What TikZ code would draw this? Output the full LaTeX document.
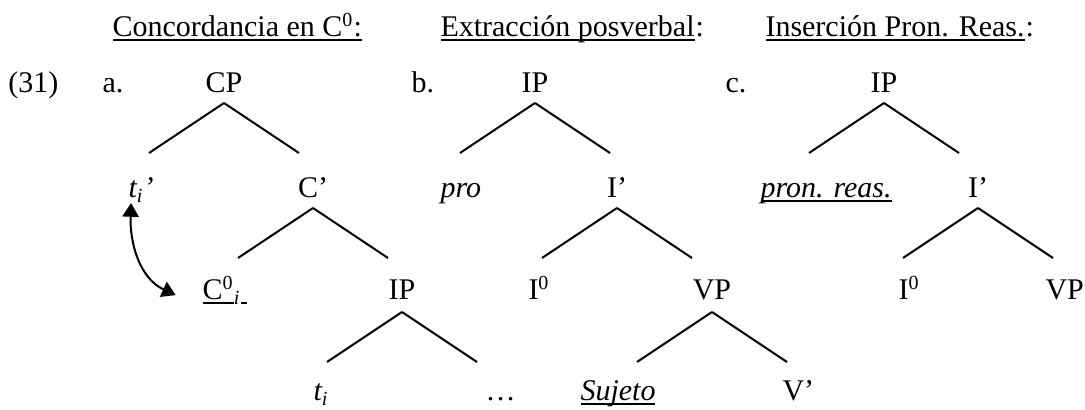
\documentclass[tikz,border=0pt]{standalone}
\usepackage{fontspec}
\setmainfont{Liberation Serif}
\usetikzlibrary{arrows.meta}
\newcommand{\wordul}[1]{\setbox0\hbox{#1}\rlap{\rule[-1.6pt]{\wd0}{0.6pt}}\box0}

\begin{document}
\begin{tikzpicture}[x=0.4pt, y=-0.4pt, font=\fontsize{12}{14}\selectfont,
  lab/.style={inner sep=0pt, anchor=base west},
  cat/.style={inner sep=0pt, anchor=base},
  branch/.style={line width=.8pt},
  >={Triangle[length=5.5pt,width=6.5pt]}]
\useasboundingbox (0,0) rectangle (1085,410);

% encabezados
\node[lab] (h1) at (112,37) {\wordul{Concordancia en C\textsuperscript{0}:}};
\node[lab] (h2) at (440,37) {\wordul{Extracción posverbal}};
\node[lab] (h2c) at (h2.base east) {:};
\node[lab] (h3) at (765,37) {\wordul{Inserción Pron. Reas.}};
\node[lab] (h3c) at (h3.base east) {:};

% fila 1
\node[lab] (ex) at (8,93) {(31)};
\node[lab] (la) at (102,93) {a.};
\node[lab] (lb) at (411,93) {b.};
\node[lab] (lc) at (725,93) {c.};
\node[cat] (cp) at (224,93) {CP};
\node[cat] (ipb) at (535,93) {IP};
\node[cat] (ipc) at (884,93) {IP};

% fila 2
\node[lab] (tia) at (128,198) {\textit{t\textsubscript{i}'}};
\node[cat] (cbar) at (313,198) {C'};
\node[lab] (pro) at (440,198) {\textit{pro}};
\node[cat] (ibarb) at (617,198) {I'};
\node[lab] (reas) at (760,198) {\wordul{\textit{pron. reas.}}};
\node[cat] (ibarc) at (978,198) {I'};

% fila 3
\node[lab] (c0) at (202,300) {\wordul{C\textsuperscript{0}}\textsubscript{\textit{i}}\wordul{\hspace{2.5pt}}};
\node[cat] (ipa) at (402,300) {IP};
\node[lab] (i0b) at (528,300) {I\textsuperscript{0}};
\node[cat] (vpb) at (712,300) {VP};
\node[lab] (i0c) at (898,300) {I\textsuperscript{0}};
\node[lab] (vpc) at (1045,300) {VP};

% fila 4
\node[lab] (ti) at (313,401) {\textit{t\textsubscript{i}}};
\node[lab] (dots) at (485,401) {…};
\node[lab] (suj) at (580,401) {\wordul{\textit{Sujeto}}};
\node[lab] (vbar) at (782,401) {V'};

% ramas
\foreach \p in {cp,ipb,ipc,cbar,ibarb,ibarc} {
  \draw[branch] (\p.base) ++(0,10) -- ++(-75,50) (\p.base) ++(0,10) -- ++(75,50);
}
\foreach \p in {ipa,vpb} {
  \draw[branch] (\p.base) ++(0,12) -- ++(-75,50) (\p.base) ++(0,12) -- ++(75,50);
}

% movimiento
\draw[<->, line width=.8pt] ([xshift=-4pt]tia.south) to[out=-92,in=155] ([xshift=-10.5pt,yshift=-2pt]c0.west);
\end{tikzpicture}
\end{document}
